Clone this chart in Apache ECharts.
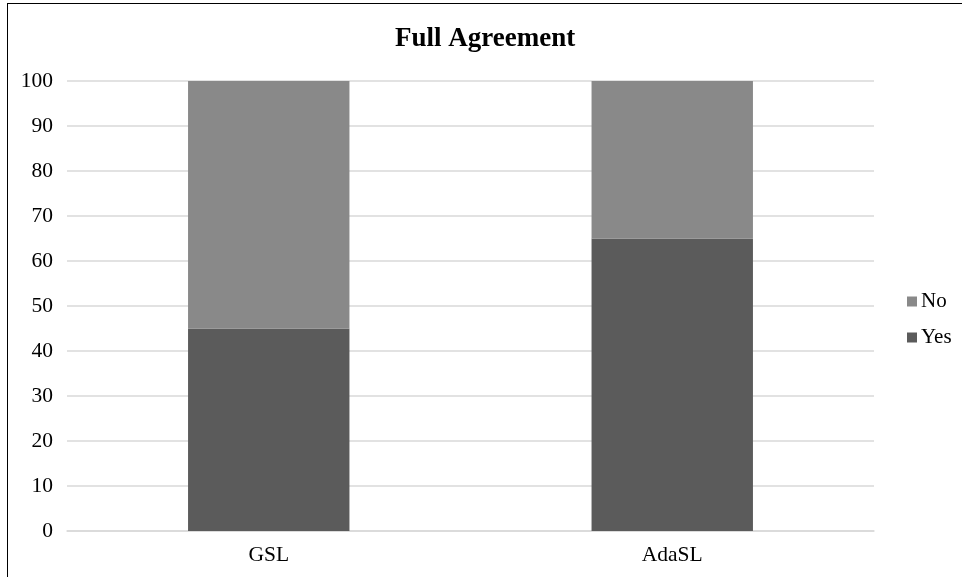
<!DOCTYPE html>
<html>
<head>
<meta charset="utf-8">
<script src="https://cdn.jsdelivr.net/npm/echarts@6/dist/echarts.min.js"></script>
<style>
  html, body { margin: 0; padding: 0; background: #fff; }
  #chart { width: 962px; height: 577px; }
  .frame-top { position: absolute; left: 7px; top: 3px; width: 955px; height: 0; border-top: 1.5px solid #000; }
  .frame-left { position: absolute; left: 7px; top: 3px; width: 0; height: 574px; border-left: 1.5px solid #000; }
</style>
</head>
<body>
<div id="chart"></div>
<div class="frame-top"></div>
<div class="frame-left"></div>
<script>
// Share of full agreement per method (percent)
const categories = ['GSL', 'AdaSL'];
const yesValues = [45, 65];
const noValues = [55, 35];
const yTicks = { min: 0, max: 100, interval: 10 };

const serif = '"Liberation Serif", "Times New Roman", serif';

const chart = echarts.init(document.getElementById('chart'), null, { renderer: 'canvas' });
chart.setOption({
  animation: false,
  backgroundColor: '#fff',
  title: {
    text: 'Full Agreement',
    left: 395,
    top: 26,
    padding: 0,
    textStyle: { fontFamily: serif, fontSize: 27, fontWeight: 'bold', color: '#000' }
  },
  legend: {
    orient: 'vertical',
    left: 907,
    top: 291,
    padding: 0,
    itemWidth: 10,
    itemHeight: 10,
    itemGap: 15,
    icon: 'rect',
    data: ['No', 'Yes'],
    textStyle: { fontFamily: serif, fontSize: 21, color: '#000', padding: [0, 0, 0, -1] }
  },
  grid: { left: 67, right: 88, top: 81, bottom: 46 },
  xAxis: {
    type: 'category',
    data: categories,
    axisLine: { show: true, lineStyle: { color: '#d9d9d9', width: 1.5 } },
    axisTick: { show: false },
    axisLabel: { fontFamily: serif, fontSize: 21.5, color: '#000', margin: 13 }
  },
  yAxis: {
    type: 'value',
    min: yTicks.min,
    max: yTicks.max,
    interval: yTicks.interval,
    axisLine: { show: false },
    axisTick: { show: false },
    axisLabel: { fontFamily: serif, fontSize: 21.5, color: '#000', margin: 14 },
    splitLine: { lineStyle: { color: '#d9d9d9', width: 1.5 } }
  },
  series: [
    {
      name: 'Yes',
      type: 'bar',
      stack: 'total',
      data: yesValues,
      barWidth: '40%',
      itemStyle: { color: '#5b5b5b' }
    },
    {
      name: 'No',
      type: 'bar',
      stack: 'total',
      data: noValues,
      barWidth: '40%',
      itemStyle: { color: '#898989' }
    }
  ]
});
</script>
</body>
</html>
